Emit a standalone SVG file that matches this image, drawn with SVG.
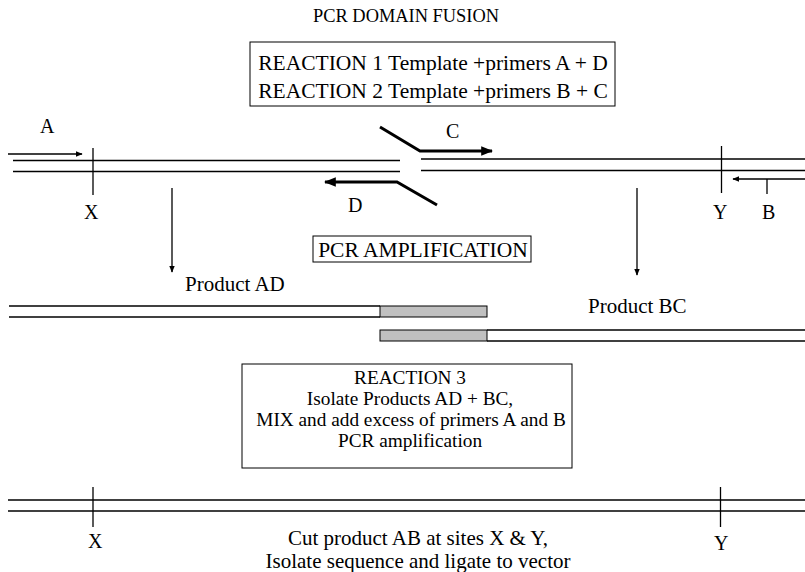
<svg xmlns="http://www.w3.org/2000/svg" width="805" height="572" viewBox="0 0 805 572">
<defs>
<style>
text{font-family:"Liberation Serif","Times New Roman",serif;font-size:20px;fill:#000}
.c{text-anchor:middle}
.big{font-size:21.5px}
.mid{font-size:21px}
.sm{font-size:19.3px}
.ln{stroke:#000;stroke-width:1.3;fill:none}
.th{stroke:#000;stroke-width:3;fill:none}
.bx{fill:#fff;stroke:#000;stroke-width:1}
.gr{fill:#c0c0c0;stroke:#000;stroke-width:1}
</style>
<marker id="ah" viewBox="0 0 10 10" refX="9" refY="5" markerWidth="7" markerHeight="7" markerUnits="userSpaceOnUse" orient="auto"><path d="M0,1 L10,5 L0,9 z" fill="#000"/></marker>
<marker id="ah2" viewBox="0 0 10 10" refX="9" refY="5" markerWidth="4" markerHeight="4" orient="auto"><path d="M0,1 L10,5 L0,9 z" fill="#000"/></marker>
</defs>
<text id="title" class="c" x="406" y="22" style="font-size:18.4px">PCR DOMAIN FUSION</text>
<g id="reaction12">
<rect class="bx" x="250" y="42" width="365" height="64"/>
<text class="c big" x="433" y="70">REACTION 1 Template +primers A + D</text>
<text class="c big" x="433" y="98">REACTION 2 Template +primers B + C</text>
</g>
<g id="template-left">
<line class="ln" x1="13" y1="160.5" x2="400" y2="160.5"/>
<line class="ln" x1="13" y1="171.5" x2="400" y2="171.5"/>
</g>
<g id="template-right">
<line class="ln" x1="421" y1="159" x2="805" y2="159"/>
<line class="ln" x1="421" y1="170.5" x2="805" y2="170.5"/>
</g>
<g id="primerA"><text x="40" y="133">A</text></g>
<g id="primerC"><text x="446" y="138">C</text></g>
<g id="primerD"><text x="348" y="212">D</text></g>
<g id="siteX1"><line class="ln" x1="93" y1="148" x2="93" y2="195"/><text x="84" y="219">X</text></g>
<g id="siteY1"><line class="ln" x1="721.5" y1="146" x2="721.5" y2="193"/><text x="713" y="219">Y</text></g>
<g id="primerB"><line class="ln" x1="767" y1="179" x2="767" y2="194"/><text x="762" y="219">B</text></g>
<g id="pcr-amp">
<rect class="bx" x="313" y="236" width="218" height="26"/>
<text class="c big" x="423" y="257">PCR AMPLIFICATION</text>
</g>
<g id="productAD">
<text class="mid" x="185" y="291">Product AD</text>
<line class="ln" x1="9" y1="306" x2="380" y2="306"/>
<line class="ln" x1="9" y1="317" x2="380" y2="317"/>
<rect class="gr" x="380" y="306" width="107" height="11"/>
</g>
<g id="productBC">
<text class="mid" x="588" y="313">Product BC</text>
<rect class="gr" x="380" y="330" width="107" height="11"/>
<line class="ln" x1="487" y1="330" x2="805" y2="330"/>
<line class="ln" x1="487" y1="341" x2="805" y2="341"/>
</g>
<g id="reaction3">
<rect class="bx" x="242" y="364" width="330" height="104"/>
<text class="c sm" x="410" y="384">REACTION 3</text>
<text class="c sm" x="410" y="405">Isolate Products AD + BC,</text>
<text class="c sm" x="411" y="426">MIX and add excess of primers A and B</text>
<text class="c sm" x="410" y="447">PCR amplification</text>
</g>
<g id="productAB">
<line class="ln" x1="8" y1="500" x2="805" y2="500"/>
<line class="ln" x1="8" y1="511" x2="805" y2="511"/>
<line class="ln" x1="93" y1="487" x2="93" y2="527"/><text x="88" y="548">X</text>
<line class="ln" x1="720.5" y1="487" x2="720.5" y2="527"/><text x="714" y="550">Y</text>
<text class="c mid" x="418" y="545">Cut product AB at sites X &amp; Y,</text>
<text class="c mid" x="418" y="568">Isolate sequence and ligate to vector</text>
</g>
<g id="connectors">
<line class="ln" x1="8" y1="154" x2="82" y2="154" marker-end="url(#ah)"/>
<line class="ln" x1="805" y1="179" x2="733" y2="179" marker-end="url(#ah)"/>
<polyline class="th" points="380,127 420,151 492,151" marker-end="url(#ah2)"/>
<polyline class="th" points="437,205 397,182 325,182" marker-end="url(#ah2)"/>
<line class="ln" x1="172" y1="188" x2="172" y2="272" marker-end="url(#ah)"/>
<line class="ln" x1="637" y1="188" x2="637" y2="275" marker-end="url(#ah)"/>
</g>
</svg>
